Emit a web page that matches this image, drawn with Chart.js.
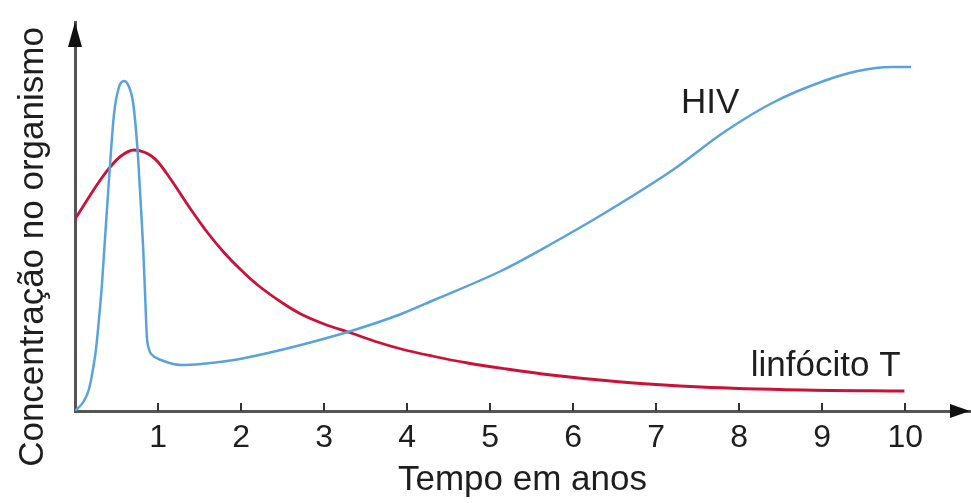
<!DOCTYPE html>
<html>
<head>
<meta charset="utf-8">
<script src="https://cdn.jsdelivr.net/npm/chart.js@4.4.1/dist/chart.umd.min.js"></script>
<style>
  html, body { margin: 0; padding: 0; background: #ffffff; }
  #wrap { width: 971px; height: 503px; }
</style>
</head>
<body>
<div id="wrap"><canvas id="c" width="971" height="503"></canvas></div>
<script>
// ---- Data (time in years, concentration in arbitrary units) ----
const hivYears = [0, 0.108, 0.169, 0.217, 0.253, 0.289, 0.325, 0.361, 0.41, 0.47, 0.53, 0.59, 0.64, 0.70, 0.75, 0.79, 0.82, 0.845, 0.865, 0.89, 0.93, 1.036, 1.277, 1.518, 1.916, 2.325, 2.72, 3.325, 3.928, 4.325, 5.13, 5.735, 6.42, 7.217, 7.82, 8.42, 9.02, 9.43, 9.83, 10.07];
const hivValues = [0, 10, 22, 42, 62, 92, 127, 172, 232, 297, 324, 330, 326, 308, 265, 210, 165, 115, 75, 62, 56, 51, 46, 47, 51, 58, 66, 80, 97, 111, 140, 167, 200, 242, 279, 309, 330, 340, 344, 344];

const linfYears = [0, 0.313, 0.434, 0.554, 0.71, 0.83, 0.92, 1.0, 1.1, 1.2, 1.4, 1.6, 1.8, 2.0, 2.2, 2.5, 2.72, 3.0, 3.325, 3.6, 3.93, 4.3, 4.73, 5.2, 5.735, 6.58, 7.54, 8.75, 9.99];
const linfValues = [192, 232, 245, 255, 261, 259, 255, 249, 238, 226, 201, 178, 158, 141, 126, 108, 97, 87, 78, 70, 62, 55, 48, 42, 36, 29, 24, 21, 20];

const xTickValues = [1, 2, 3, 4, 5, 6, 7, 8, 9, 10];
const seriesNames = ['HIV', 'linfócito T'];
const labelYears = [7.3, 8.14];
const labelValues = [298, 35];
const xTitle = 'Tempo em anos';
const yTitle = 'Concentração no organismo';

const FONT = "'Liberation Sans', Arial, Helvetica, sans-serif";
const TEXT = '#1e1e1e';
const AXIS = '#555555';
const BLUE = '#5aa2dc';
const RED = '#cc1138';

const toPoints = (xs, ys) => xs.map((x, i) => ({ x: x, y: ys[i] }));

const decorPlugin = {
  id: 'decor',
  afterDraw(chart) {
    const ctx = chart.ctx;
    const xs = chart.scales.x, ys = chart.scales.y;
    const a = chart.chartArea;
    ctx.save();
    // small tick marks above the x axis
    ctx.strokeStyle = '#333';
    ctx.lineWidth = 2;
    xTickValues.forEach(v => {
      const px = Math.round(xs.getPixelForValue(v));
      ctx.beginPath();
      ctx.moveTo(px, a.bottom - 8);
      ctx.lineTo(px, a.bottom);
      ctx.stroke();
    });
    // arrowheads
    ctx.fillStyle = '#111';
    ctx.beginPath();
    ctx.moveTo(a.right, a.bottom);
    ctx.lineTo(a.right - 20, a.bottom - 7);
    ctx.lineTo(a.right - 20, a.bottom + 7);
    ctx.closePath();
    ctx.fill();
    ctx.beginPath();
    ctx.moveTo(a.left, a.top);
    ctx.lineTo(a.left - 7, a.top + 25);
    ctx.lineTo(a.left + 7, a.top + 25);
    ctx.closePath();
    ctx.fill();
    // series labels
    ctx.fillStyle = TEXT;
    ctx.font = '35px ' + FONT;
    ctx.textAlign = 'left';
    ctx.textBaseline = 'alphabetic';
    seriesNames.forEach((name, i) => {
      ctx.fillText(name, xs.getPixelForValue(labelYears[i]), ys.getPixelForValue(labelValues[i]));
    });
    // y axis title
    ctx.translate(43, 247);
    ctx.rotate(-Math.PI / 2);
    ctx.textAlign = 'center';
    ctx.fillText(yTitle, 0, 0);
    ctx.restore();
  }
};

new Chart(document.getElementById('c'), {
  type: 'line',
  data: {
    datasets: [
      { label: seriesNames[0], data: toPoints(hivYears, hivValues), borderColor: BLUE, borderWidth: 2.5, pointRadius: 0, cubicInterpolationMode: 'monotone', fill: false },
      { label: seriesNames[1], data: toPoints(linfYears, linfValues), borderColor: RED, borderWidth: 2.8, pointRadius: 0, cubicInterpolationMode: 'monotone', fill: false }
    ]
  },
  options: {
    responsive: false,
    animation: false,
    events: [],
    layout: { padding: { top: 22, right: 1, left: 0, bottom: 0 } },
    plugins: { legend: { display: false }, tooltip: { enabled: false }, title: { display: false } },
    scales: {
      x: {
        type: 'linear',
        min: 0,
        max: 10.78,
        afterBuildTicks: s => { s.ticks = xTickValues.map(v => ({ value: v })); },
        afterFit: s => { s.height = 92; },
        grid: { display: true, drawOnChartArea: false, drawTicks: false, color: 'rgba(0,0,0,0)' },
        border: { display: true, color: AXIS, width: 3 },
        ticks: { color: TEXT, font: { family: FONT, size: 32 }, padding: 8, maxRotation: 0, autoSkip: false },
        title: { display: true, text: xTitle, color: TEXT, font: { family: FONT, size: 35 }, padding: { top: 0, bottom: 2 } }
      },
      y: {
        type: 'linear',
        min: 0,
        max: 389,
        afterFit: s => { s.width = 75; },
        grid: { display: true, drawOnChartArea: false, drawTicks: false, color: 'rgba(0,0,0,0)' },
        border: { display: true, color: AXIS, width: 3 },
        ticks: { display: false }
      }
    }
  },
  plugins: [decorPlugin]
});
</script>
</body>
</html>
